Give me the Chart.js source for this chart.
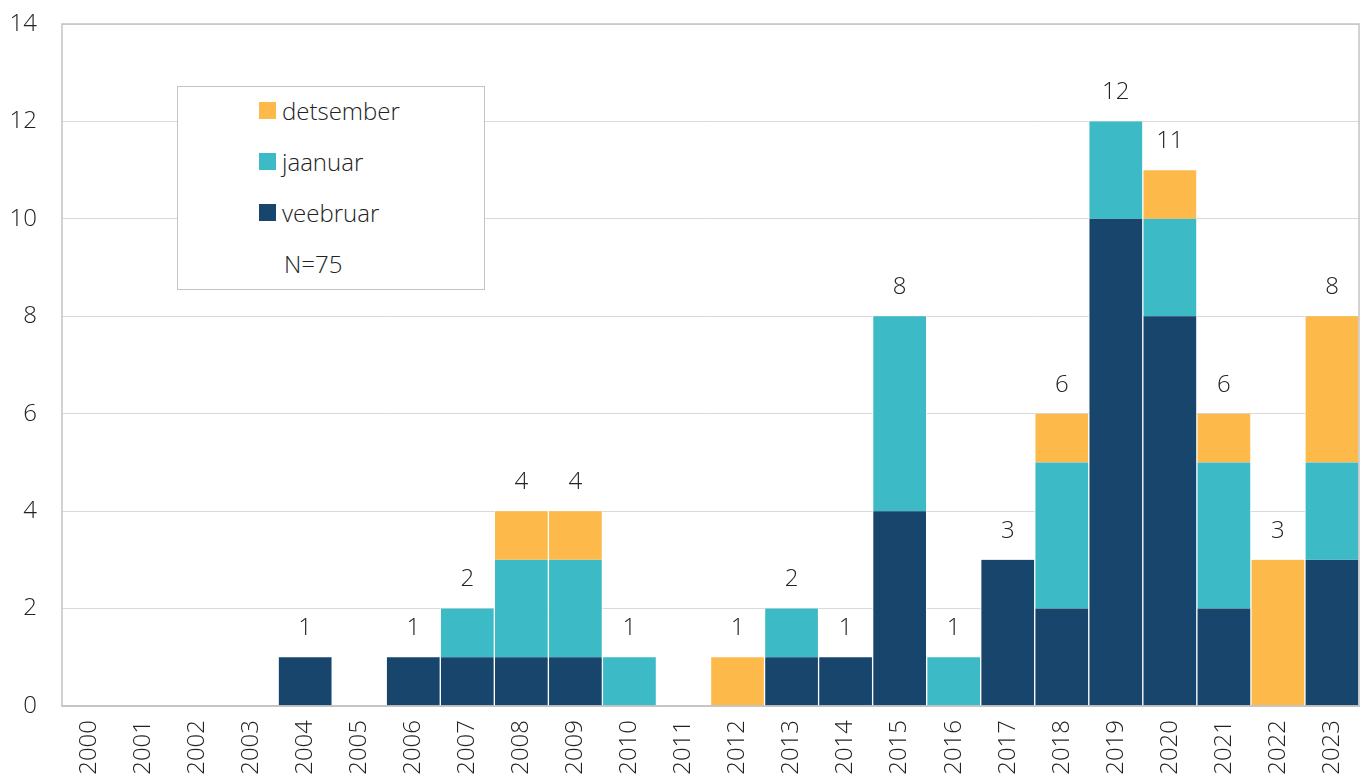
<!DOCTYPE html>
<html>
<head>
<meta charset="utf-8">
<script src="https://cdn.jsdelivr.net/npm/chart.js@4/dist/chart.umd.min.js"></script>
<style>
    html, body { margin: 0; padding: 0; background: #fff; }
    #wrap { position: relative; width: 1364px; height: 776px; }
    #legend {
        position: absolute; left: 177px; top: 86px; width: 308px; height: 204px;
        border: 1px solid #c4c4c4; background: #fff; box-sizing: border-box;
        font-family: "Open Sans", sans-serif; font-weight: 300; font-size: 24px; color: #222;
    }
    #legend .item { position: absolute; left: 81px; display: flex; align-items: center; }
    #legend .sw { width: 17px; height: 17px; margin-right: 6px; }
</style>
</head>
<body>
<div id="wrap">
    <canvas id="chart" width="1364" height="776"></canvas>
    <div id="legend"></div>
</div>
<script>
// Data
const years = ['2000','2001','2002','2003','2004','2005','2006','2007','2008','2009','2010','2011',
               '2012','2013','2014','2015','2016','2017','2018','2019','2020','2021','2022','2023'];
const veebruar  = [0,0,0,0,1,0,1,1,1,1,0,0,0,1,1,4,0,3,2,10,8,2,0,3];
const jaanuar   = [0,0,0,0,0,0,0,1,2,2,1,0,0,1,0,4,1,0,3,2,2,3,0,2];
const detsember = [0,0,0,0,0,0,0,0,1,1,0,0,1,0,0,0,0,0,1,0,1,1,3,3];
const yTicks = [0, 2, 4, 6, 8, 10, 12, 14];
const noteText = 'N=75';

const totals = years.map((y, i) => veebruar[i] + jaanuar[i] + detsember[i]);
const font = { family: '"Open Sans", sans-serif', size: 24, weight: 300 };

const barStyle = {
    borderColor: '#ffffff',
    borderWidth: { left: 1, right: 1, top: 0, bottom: 0 },
    borderSkipped: false,
    barPercentage: 1,
    categoryPercentage: 1
};

// Totals above stacks and a frame around the plot area
const extras = {
    id: 'extras',
    afterDatasetsDraw(chart) {
        const { ctx, chartArea, scales } = chart;
        ctx.save();
        ctx.fillStyle = '#222';
        ctx.font = `${font.weight} ${font.size}px ${font.family}`;
        ctx.textAlign = 'center';
        ctx.textBaseline = 'middle';
        totals.forEach((t, i) => {
            if (!t) return;
            ctx.fillText(String(t), scales.x.getPixelForValue(i), scales.y.getPixelForValue(t) - 29);
        });
        ctx.strokeStyle = '#c4c4c4';
        ctx.lineWidth = 1.5;
        ctx.strokeRect(chartArea.left, chartArea.top, chartArea.right - chartArea.left, chartArea.bottom - chartArea.top);
        ctx.restore();
    }
};

const chart = new Chart(document.getElementById('chart'), {
    type: 'bar',
    data: {
        labels: years,
        datasets: [
            { label: 'veebruar', data: veebruar, backgroundColor: '#17456b', ...barStyle },
            { label: 'jaanuar', data: jaanuar, backgroundColor: '#3cbac5', ...barStyle },
            { label: 'detsember', data: detsember, backgroundColor: '#fdb94a', ...barStyle }
        ]
    },
    options: {
        responsive: false,
        animation: false,
        layout: { padding: { top: 24, right: 5, left: 0, bottom: 0 } },
        plugins: { legend: { display: false }, tooltip: { enabled: false } },
        scales: {
            x: {
                stacked: true,
                grid: { display: false },
                border: { color: '#c4c4c4', width: 1.5 },
                ticks: { color: '#222', font, minRotation: 90, maxRotation: 90, padding: 6 },
                afterFit: s => { s.height = 70; s.paddingLeft = 0; s.paddingRight = 0; }
            },
            y: {
                stacked: true,
                min: 0,
                max: 14,
                afterBuildTicks: s => { s.ticks = yTicks.map(v => ({ value: v })); },
                grid: { color: '#d9d9d9', drawTicks: false },
                border: { display: false },
                ticks: { color: '#222', font, padding: 25 },
                afterFit: s => { s.width = 62; s.paddingTop = 0; s.paddingBottom = 0; }
            }
        }
    },
    plugins: [extras]
});

// Legend box, top entry first like the reference
const legend = document.getElementById('legend');
const order = [2, 1, 0];
order.forEach((di, k) => {
    const ds = chart.data.datasets[di];
    const item = document.createElement('div');
    item.className = 'item';
    item.style.top = (7 + k * 51) + 'px';
    item.innerHTML = `<span class="sw" style="background:${ds.backgroundColor}"></span><span>${ds.label}</span>`;
    legend.appendChild(item);
});
const note = document.createElement('div');
note.className = 'item';
note.style.top = (7 + 3 * 51) + 'px';
note.style.left = '106px';
note.textContent = noteText;
legend.appendChild(note);
</script>
</body>
</html>
